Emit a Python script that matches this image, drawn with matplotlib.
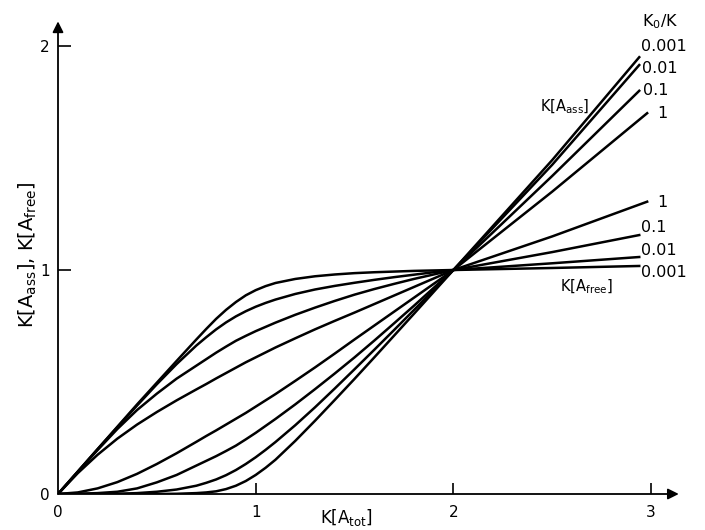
import matplotlib
matplotlib.use('Agg')
import matplotlib.pyplot as plt

plt.rcParams['font.family'] = ['DejaVu Sans']
plt.rcParams['mathtext.default'] = 'regular'

# K[A_tot] grid (shared up to 2.5), the last point differs per curve
x_tot = [0, 0.1, 0.2, 0.3, 0.4, 0.5, 0.6, 0.7, 0.75, 0.8, 0.85, 0.9, 0.95, 1.0,
         1.05, 1.1, 1.2, 1.3, 1.4, 1.5, 1.6, 1.7, 1.8, 1.9, 2.0, 2.5]
ratios = ['0.001', '0.01', '0.1', '1']
x_end = [2.94, 2.94, 2.94, 2.98]

free_0001 = [0, 0.1, 0.2, 0.3, 0.4, 0.497, 0.594, 0.69, 0.737, 0.782, 0.822, 0.857, 0.887, 0.91,
             0.928, 0.942, 0.96, 0.972, 0.98, 0.986, 0.99, 0.993, 0.996, 0.998, 1.0, 1.009, 1.018]
free_001 = [0, 0.1, 0.2, 0.298, 0.395, 0.49, 0.58, 0.663, 0.70, 0.735, 0.766, 0.793, 0.816, 0.836,
            0.853, 0.868, 0.893, 0.913, 0.929, 0.943, 0.956, 0.968, 0.979, 0.99, 1.0, 1.03, 1.058]
free_01 = [0, 0.099, 0.196, 0.29, 0.375, 0.448, 0.515, 0.573, 0.602, 0.631, 0.658, 0.684, 0.706, 0.727,
           0.746, 0.765, 0.80, 0.832, 0.862, 0.89, 0.915, 0.938, 0.96, 0.98, 1.0, 1.08, 1.156]
free_1 = [0, 0.093, 0.175, 0.247, 0.31, 0.366, 0.418, 0.467, 0.491, 0.516, 0.54, 0.564, 0.588, 0.61,
          0.632, 0.654, 0.695, 0.735, 0.773, 0.81, 0.848, 0.886, 0.924, 0.962, 1.0, 1.15, 1.305]

ass_0001 = [0, 0, 0, 0, 0, 0, 0.001, 0.004, 0.007, 0.012, 0.022, 0.037, 0.058, 0.085,
            0.117, 0.153, 0.237, 0.327, 0.42, 0.514, 0.61, 0.707, 0.804, 0.902, 1.0, 1.491, 1.95]
ass_001 = [0, 0, 0, 0.001, 0.004, 0.01, 0.02, 0.037, 0.05, 0.065, 0.084, 0.107, 0.134, 0.164,
           0.197, 0.232, 0.307, 0.387, 0.471, 0.557, 0.644, 0.732, 0.821, 0.91, 1.0, 1.47, 1.915]
ass_01 = [0, 0.001, 0.004, 0.01, 0.025, 0.052, 0.085, 0.127, 0.148, 0.169, 0.192, 0.216, 0.244, 0.273,
          0.304, 0.335, 0.40, 0.468, 0.538, 0.61, 0.685, 0.762, 0.84, 0.92, 1.0, 1.42, 1.80]
ass_1 = [0, 0.007, 0.025, 0.053, 0.09, 0.134, 0.182, 0.233, 0.259, 0.284, 0.31, 0.336, 0.362, 0.39,
         0.418, 0.446, 0.505, 0.565, 0.627, 0.69, 0.752, 0.814, 0.876, 0.938, 1.0, 1.35, 1.70]

free_curves = [free_0001, free_001, free_01, free_1]
ass_curves = [ass_0001, ass_001, ass_01, ass_1]

# where the K0/K values are written at the right ends
ass_label_pos = [(2.95, 2.0), (2.955, 1.9), (2.96, 1.80), (3.03, 1.70)]
free_label_pos = [(2.95, 0.987), (2.95, 1.085), (2.95, 1.19), (3.03, 1.30)]

fig = plt.figure(figsize=(7.05, 5.3), dpi=100)
ax = fig.add_axes([58 / 705, 36 / 530, 3.2 * 197.7 / 705, 2.15 * 224 / 530])
ax.set_xlim(0, 3.2)
ax.set_ylim(0, 2.15)

lw = 1.8
for i in range(len(ratios)):
    xs = x_tot + [x_end[i]]
    ax.plot(xs, free_curves[i], color='black', lw=lw, solid_joinstyle='round')
    ax.plot(xs, ass_curves[i], color='black', lw=lw, solid_joinstyle='round')
    ax.text(ass_label_pos[i][0], ass_label_pos[i][1], ratios[i], fontsize=11.5,
            ha='left', va='center', clip_on=False)
    ax.text(free_label_pos[i][0], free_label_pos[i][1], ratios[i], fontsize=11.5,
            ha='left', va='center', clip_on=False)

ax.text(2.955, 2.11, 'K$_0$/K', fontsize=11.5, ha='left', va='center', clip_on=False)
ax.text(2.44, 1.73, 'K$\\left[A_{ass}\\right]$', fontsize=10.5, ha='left', va='center')
ax.text(2.54, 0.925, 'K$\\left[A_{free}\\right]$', fontsize=10.5, ha='left', va='center')

# axes drawn as arrows
for s in ax.spines.values():
    s.set_visible(False)
ax.annotate('', xy=(3.14, 0), xytext=(0, 0),
            arrowprops=dict(arrowstyle='-|>', color='black', lw=1.3, mutation_scale=16,
                            shrinkA=0, shrinkB=0), annotation_clip=False)
ax.annotate('', xy=(0, 2.11), xytext=(0, 0),
            arrowprops=dict(arrowstyle='-|>', color='black', lw=1.3, mutation_scale=16,
                            shrinkA=0, shrinkB=0), annotation_clip=False)

ax.set_xticks([0, 1, 2, 3])
ax.set_yticks([0, 1, 2])
ax.tick_params(axis='x', direction='in', length=8, width=1.2, pad=8, labelsize=11)
ax.tick_params(axis='y', direction='in', length=9, width=1.2, pad=6, labelsize=11)
ax.xaxis.get_major_ticks()[0].tick1line.set_visible(False)
ax.yaxis.get_major_ticks()[0].tick1line.set_visible(False)

ax.text(1.46, -0.104, 'K$\\left[A_{tot}\\right]$', fontsize=12, ha='center', va='center', clip_on=False)
ax.text(-0.15, 1.07, 'K$\\left[A_{ass}\\right]$, K$\\left[A_{free}\\right]$', fontsize=14,
        rotation=90, ha='center', va='center', clip_on=False)

fig.savefig('out.png', dpi=100)
